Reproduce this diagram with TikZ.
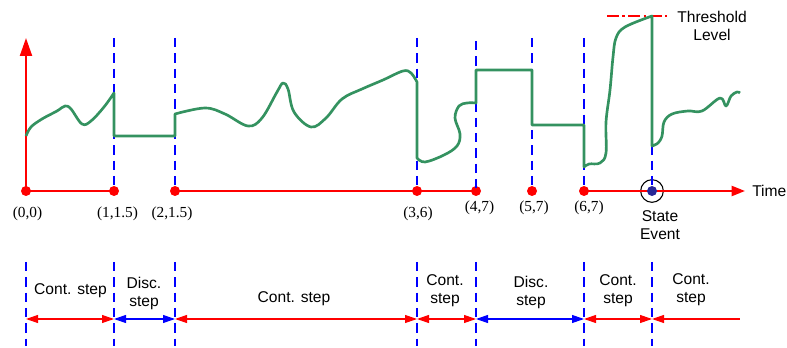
\documentclass[tikz,border=0pt]{standalone}
\usepackage{fontspec}
\setmainfont{Liberation Serif}
\setsansfont{Liberation Sans}
\usetikzlibrary{arrows.meta}
\definecolor{sigreen}{RGB}{52,146,96}
\definecolor{evblue}{RGB}{40,40,150}
\tikzset{
  dot/.style={circle, fill=red, inner sep=0pt, minimum size=7.5pt},
  axis/.style={red, line width=1.6pt},
  vdash/.style={blue, line width=1.1pt, dash pattern=on 7pt off 4.5pt},
  sig/.style={sigreen, line width=2pt, line join=round},
  span/.style={red, line width=0.8pt, {Triangle[length=9pt,width=6pt]}-{Triangle[length=9pt,width=6pt]}},
  dspan/.style={span, blue},
  lbl/.style={font=\sffamily\fontsize{11.7}{13.5}\selectfont, align=center, inner sep=0pt},
  clbl/.style={font=\fontsize{11.5}{13.5}\selectfont, inner sep=0pt},
}
\begin{document}
\begin{tikzpicture}[x=0.75pt, y=-0.75pt]
  \useasboundingbox (0,0) rectangle (787,348);
  % event points on the time axis
  \node[dot] (p0) at (26,191) {};
  \node[dot] (p1) at (114,191) {};
  \node[dot] (p2) at (175,191) {};
  \node[dot] (p3) at (417,191) {};
  \node[dot] (p4) at (476,191) {};
  \node[dot] (p5) at (532,191) {};
  \node[dot] (p6) at (584,191) {};
  \node[circle, draw, line width=0.8pt, minimum size=17pt, inner sep=0pt] (ev) at (652,191) {};
  \coordinate (ytip) at (26,38);
  \coordinate (xtip) at (745,191);
  \coordinate (top) at (0,38);
  \coordinate (bt) at (0,262);
  \coordinate (bb) at (0,346);
  \coordinate (ar) at (0,319);
  \coordinate (aend) at (740,319);
  % axes
  \draw[axis, -{Triangle[length=13.5pt, width=9pt]}] (p0.center) -- (ytip);
  \draw[axis] (p0.center) -- (p1.center);
  \draw[axis] (p2.center) -- (p3.center) -- (p4.center);
  \draw[axis, -{Triangle[length=10pt, width=7.5pt]}] (p6.center) -- (xtip);
  \node[circle, fill=evblue, inner sep=0pt, minimum size=7.5pt] (evd) at (ev.center) {};
  \node[lbl, anchor=west] (time) at (752,191) {Time};
  % switching instants
  \foreach \p in {p1,p2,p3,p5,p6,ev}
    \draw[vdash] (\p |- top) -- (\p.center);
  \draw[vdash] (p4 |- 0,41) -- (p4.center);
  \foreach \p in {p0,p1,p2,p3,p4,p6,ev}
    \draw[vdash] (\p |- bt) -- (\p |- bb);
  % threshold
  \coordinate (thl) at (607,16);
  \coordinate (thr) at (667,16);
  \draw[red, line width=0.8pt, dash pattern=on 9pt off 2.5pt on 2pt off 2.5pt] (thl) -- (thr);
  \node[lbl] (thlbl) at (712,26) {Threshold\\Level};
  % signal
  \draw[sig] plot[smooth, tension=0.6] coordinates {(26,136) (31,127) (42,119) (57,111) (65,106) (71,109) (82,124) (91,121) (104,107) (114,93)}
    -- (114,136) -- (175,136) -- (175,114)
    -- plot[smooth, tension=0.6] coordinates {(175,114) (205,108) (225,114) (248,126) (262,118) (277,92) (283,83) (288,89) (294,112) (311,127) (326,118) (342,99) (362,89) (383,80) (403,71) (411,73) (417,82)}
    -- (417,158)
    -- plot[smooth, tension=0.6] coordinates {(417,158) (425,162) (444,155) (457,146) (460,134) (455,118) (459,106) (467,103) (476,103)}
    -- (476,70) -- (532,70) -- (532,125) -- (584,125) -- (584,167)
    -- plot[smooth, tension=0.6] coordinates {(584,167) (589,164) (600,163) (606,153) (606,122) (610,90) (613,57) (616,38) (625,27) (652,16)}
    -- (652,146)
    -- plot[smooth, tension=0.6] coordinates {(652,146) (658,143) (662,136) (664,122) (672,114) (688,111) (702,111) (720,98) (726,106) (731,96) (737,92) (740,93)};
  % point labels
  \node[clbl] (l0) at (27.5,214) {(0,0)};
  \node[clbl] (l1) at (117.5,214) {(1,1.5)};
  \node[clbl] (l2) at (172,214) {(2,1.5)};
  \node[clbl] (l3) at (418,214) {(3,6)};
  \node[clbl] (l4) at (479.5,208) {(4,7)};
  \node[clbl] (l5) at (534,208) {(5,7)};
  \node[clbl] (l6) at (589,208) {(6,7)};
  \node[lbl] (evlbl) at (660,225) {State\\Event};
  % step spans
  \draw[span] (p0 |- ar) -- (p1 |- ar);
  \draw[dspan] (p1 |- ar) -- (p2 |- ar);
  \draw[span] (p2 |- ar) -- (p3 |- ar);
  \draw[span] (p3 |- ar) -- (p4 |- ar);
  \draw[dspan] (p4 |- ar) -- (p6 |- ar);
  \draw[span] (p6 |- ar) -- (ev |- ar);
  \draw[red, line width=0.8pt, {Triangle[length=9pt,width=6pt]}-] (ev |- ar) -- (aend);
  \node[lbl] (s1) at (70.5,291) {Cont. step};
  \node[lbl] (s2) at (144,293) {Disc.\\step};
  \node[lbl] (s3) at (294,299) {Cont. step};
  \node[lbl] (s4) at (445,291) {Cont.\\step};
  \node[lbl] (s5) at (531,292) {Disc.\\step};
  \node[lbl] (s6) at (618,291) {Cont.\\step};
  \node[lbl] (s7) at (691,290) {Cont.\\step};
\end{tikzpicture}
\end{document}
